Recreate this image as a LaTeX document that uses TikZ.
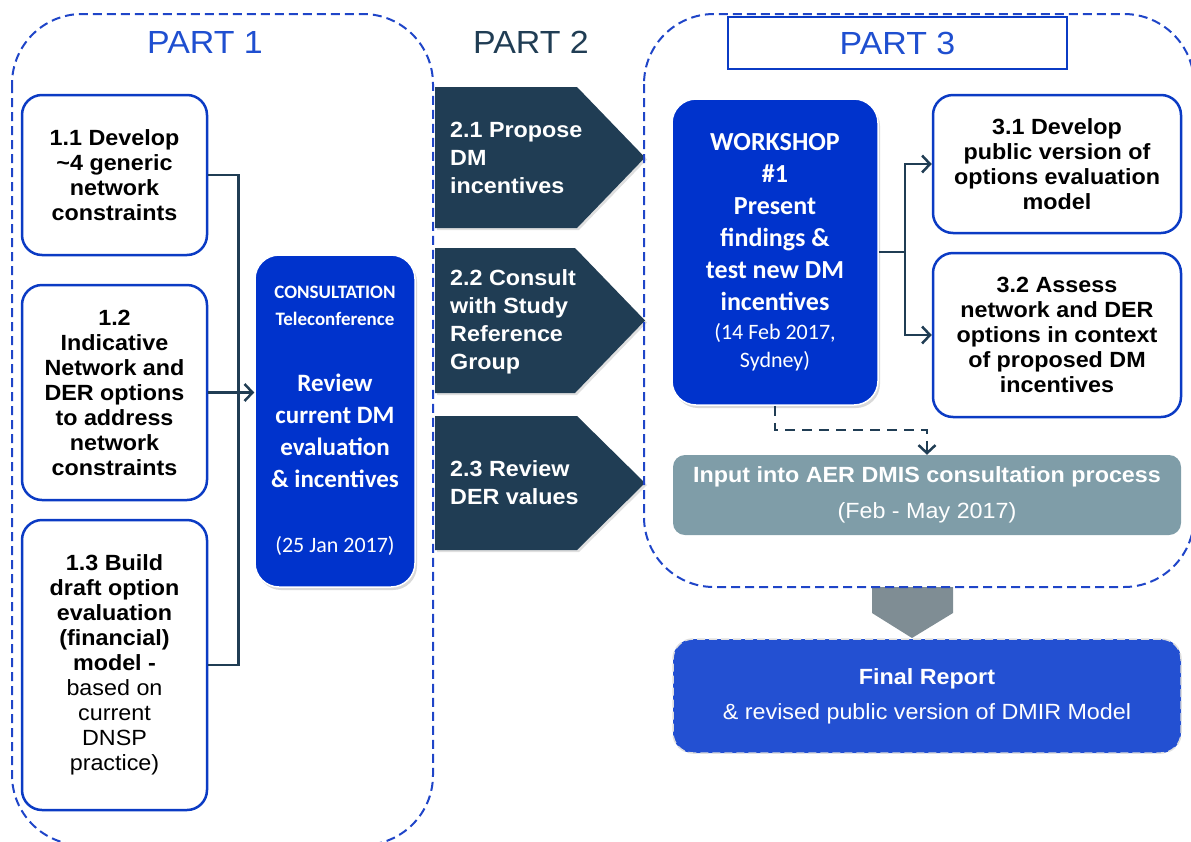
\documentclass[tikz,border=0pt]{standalone}
\usepackage{fontspec}
\setmainfont{Liberation Sans}[FakeStretch=1.06]
\newfontfamily\calibri{Carlito}
\usetikzlibrary{arrows.meta,shadows}

\definecolor{boxblue}{HTML}{0B3BC4}
\definecolor{meetblue}{HTML}{0033CC}
\definecolor{partblue}{HTML}{1F45C8}
\definecolor{titleblue}{HTML}{1F4FD0}
\definecolor{slate}{HTML}{203D54}
\definecolor{inputgray}{HTML}{7F9DA8}
\definecolor{downgray}{HTML}{7F8D94}
\definecolor{reportblue}{HTML}{2350D2}

\begin{document}
\begin{tikzpicture}[%
    x=1pt, y=-1pt,
    partline/.style={
      draw=partblue,
      line width=2pt,
      dash pattern=on 9pt off 5pt,
      rounded corners=70pt
    },
    task/.style={
      rectangle,
      draw=boxblue,
      line width=2.5pt,
      fill=white,
      rounded corners=20pt,
      align=center,
      inner sep=0pt,
      font=\bfseries\fontsize{22}{25}\selectfont
    },
    meeting/.style={
      rectangle,
      draw=white,
      line width=1.5pt,
      fill=meetblue,
      text=white,
      rounded corners=24pt,
      align=center,
      inner sep=0pt,
      drop shadow={shadow xshift=2pt, shadow yshift=-3pt, opacity=0.3}
    },
    chevron/.style={
      fill=slate,
      drop shadow={shadow xshift=2pt, shadow yshift=-2pt, opacity=0.25}
    },
    chevtext/.style={
      anchor=west,
      text=white,
      align=left,
      inner sep=0pt,
      font=\bfseries\fontsize{22}{28}\selectfont
    },
    parttitle/.style={font=\fontsize{32}{38}\selectfont},
    link/.style={draw=slate, line width=2.5pt},
    linkarrow/.style={-{Straight Barb[length=8pt,width=17pt]}}
  ]
    \useasboundingbox (0,0) rectangle (1191,841);

    % part 2 steps and the step down to the report
    \fill[chevron] (435,87) -- (577,87) -- (645,157.5) -- (577,228) -- (435,228) -- cycle;
    \fill[chevron] (435,248) -- (575,248) -- (645,320.5) -- (575,393) -- (435,393) -- cycle;
    \fill[chevron] (435,416) -- (577,416) -- (645,483) -- (577,550) -- (435,550) -- cycle;
    \fill[downgray] (872,587) -- (953,587) -- (953,613) -- (912,638) -- (872,613) -- cycle;

    % part outlines
    \draw[partline] (12,14) rectangle (433,845);
    \draw[partline] (644,14) rectangle (1194,587);

    \node[parttitle, text=titleblue] (part1) at (205,42) {PART 1};
    \node[parttitle, text=slate] (part2) at (531,42) {PART 2};
    \node[parttitle, text=titleblue, draw=boxblue, line width=1.5pt, fill=white,
      minimum width=339pt, minimum height=52pt] (part3) at (897.5,43) {PART 3};

    \node[task, minimum width=185pt, minimum height=160pt] (develop) at (114.5,175)
      {1.1 Develop\\\textasciitilde4 generic\\network\\constraints};
    \node[task, minimum width=185pt, minimum height=215pt] (indicative) at (114.5,392.5)
      {1.2\\Indicative\\Network and\\DER options\\to address\\network\\constraints};
    \node[task, minimum width=185pt, minimum height=290pt] (build) at (114.5,665)
      {1.3 Build\\draft option\\evaluation\\(financial)\\model -\\\mdseries based on\\%
       \mdseries current\\\mdseries DNSP\\\mdseries practice)};

    \node[meeting, minimum width=160pt, minimum height=332pt,
      font=\calibri\bfseries\fontsize{25}{32}\selectfont] (consult) at (335,421)
      {{\fontsize{19}{24}\selectfont CONSULTATION}\\[-5pt]%
       {\fontsize{19}{24}\selectfont Teleconference}\\[34pt]%
       Review\\current DM\\evaluation\\\& incentives\\[33pt]%
       {\mdseries\fontsize{22}{26}\selectfont (25 Jan 2017)}};

    \node[chevtext] (propose) at (450,158) {2.1 Propose\\DM\\incentives};
    \node[chevtext] (studygroup) at (450,322) {2.2 Consult\\with Study\\Reference\\Group};
    \node[chevtext] (dervalues) at (450,483) {2.3 Review\\DER values};

    \node[meeting, minimum width=206pt, minimum height=306pt,
      font=\calibri\bfseries\fontsize{26}{32}\selectfont] (workshop) at (775,252)
      {WORKSHOP\\\#1\\Present\\findings \&\\test new DM\\incentives\\[-3pt]%
       {\mdseries\fontsize{22}{26}\selectfont (14 Feb 2017,}\\[-4pt]%
       {\mdseries\fontsize{22}{26}\selectfont Sydney)}};

    \node[task, minimum width=248pt, minimum height=138pt] (publicver) at (1057,164)
      {3.1 Develop\\public version of\\options evaluation\\model};
    \node[task, minimum width=248pt, minimum height=164pt] (assess) at (1057,335)
      {3.2 Assess\\network and DER\\options in context\\of proposed DM\\incentives};

    \node[rectangle, fill=inputgray, rounded corners=12pt, text=white, align=center,
      minimum width=508pt, minimum height=80pt, font=\fontsize{22}{36}\selectfont]
      (aerinput) at (927,495)
      {\bfseries Input into AER DMIS consultation process\\(Feb - May 2017)};

    \node[rectangle, fill=reportblue, draw=gray!25, line width=1.5pt,
      dash pattern=on 8pt off 4pt, rounded corners=20pt, text=white, align=center,
      minimum width=508pt, minimum height=114pt, font=\fontsize{22}{35}\selectfont]
      (finalrep) at (927,696)
      {\bfseries Final Report\\\& revised public version of DMIR Model};

    % connectors
    \draw[link] (develop.east) -- ++(30,0) |- (build.east);
    \draw[link, linkarrow] (indicative.east) -- (consult.west |- indicative.east);
    \draw[link] (workshop.east) -- ++(26,0) coordinate (split);
    \draw[link, linkarrow] (split) |- (publicver.west);
    \draw[link, linkarrow] (split) |- (assess.west);
    \draw[link, linkarrow, dash pattern=on 10pt off 7pt]
      (workshop.south) -- ++(0,24) -| (aerinput.north);

  \end{tikzpicture}
\end{document}
